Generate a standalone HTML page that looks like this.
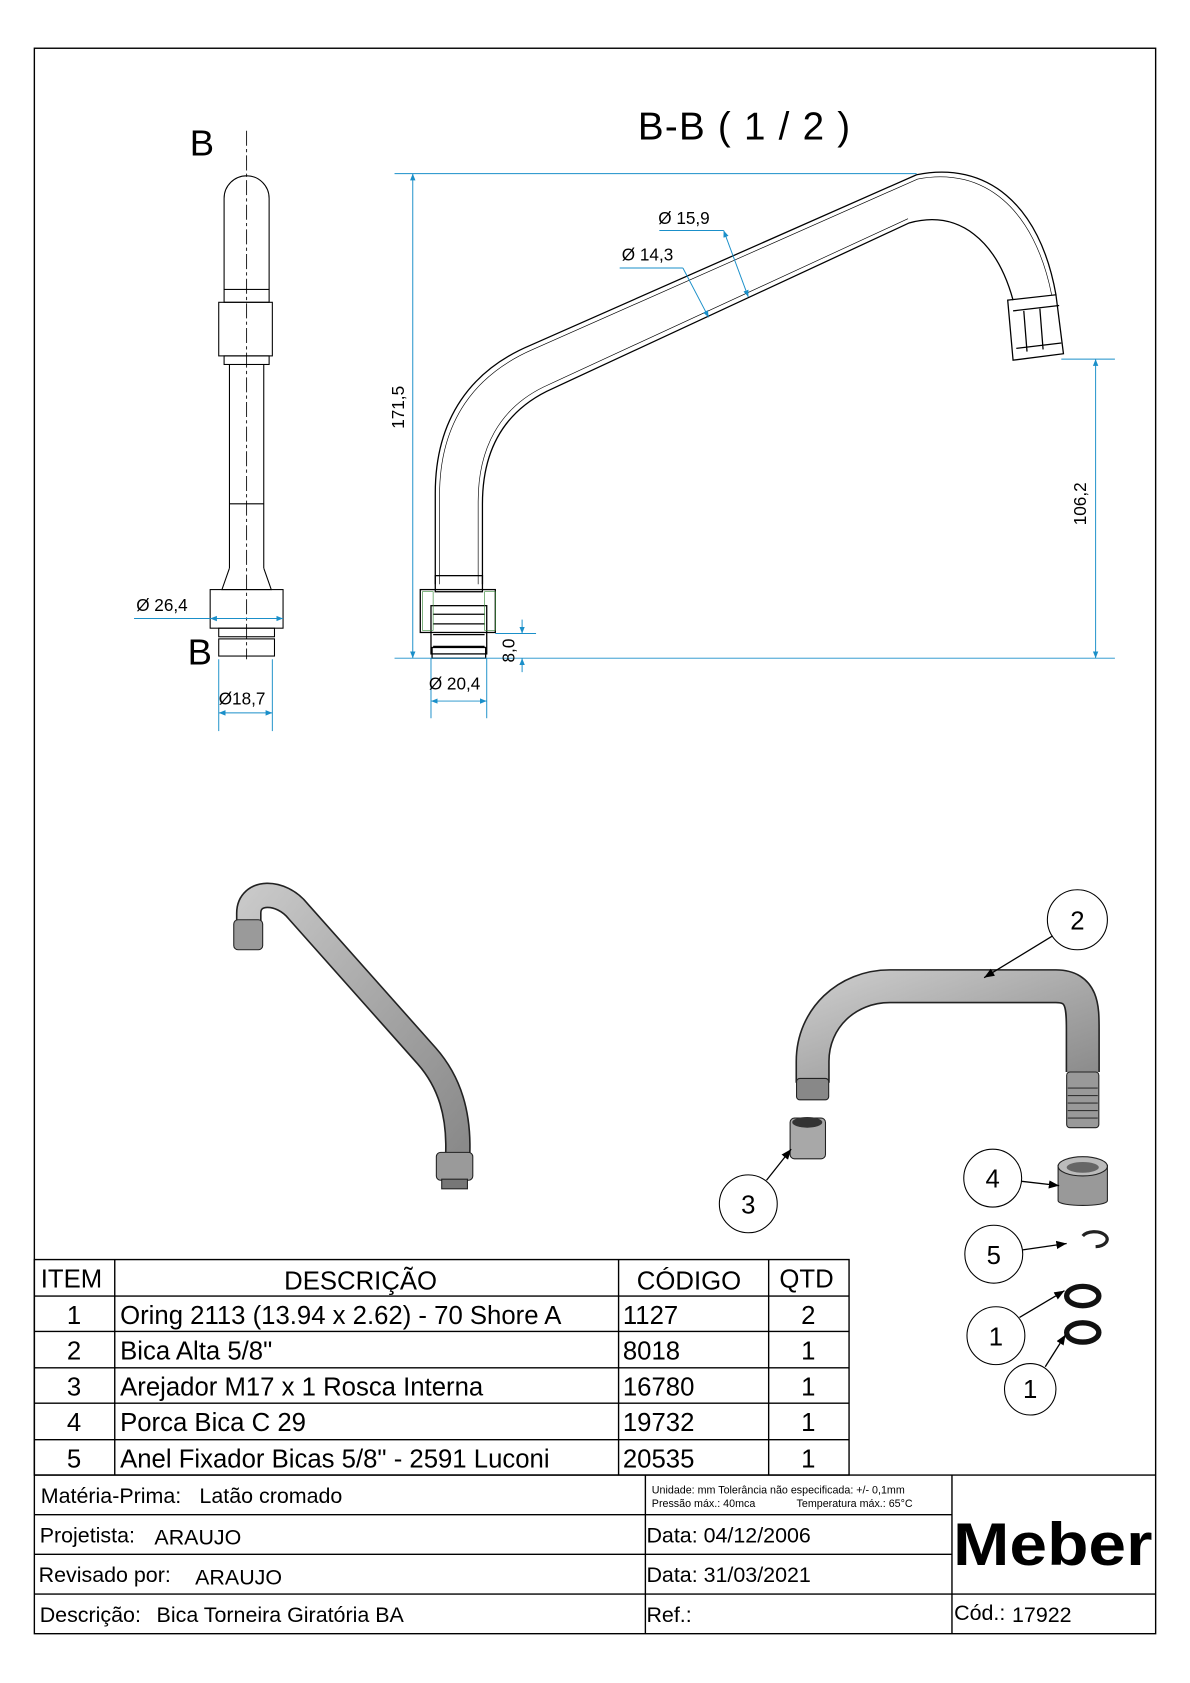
<!DOCTYPE html>
<html><head><meta charset="utf-8"><style>
html,body{margin:0;padding:0;background:#fff}
svg{display:block}
text{font-family:"Liberation Sans",Arial,sans-serif;fill:#000}
</style></head><body>
<svg width="1190" height="1683" viewBox="0 0 1110 1570" xmlns="http://www.w3.org/2000/svg">
<defs>
<marker id="ar" viewBox="0 0 10 10" refX="10" refY="5" markerWidth="7" markerHeight="7" orient="auto-start-reverse"><path d="M0,1 L10,5 L0,9z" fill="#1a8fc9"/></marker>
<marker id="ak" viewBox="0 0 10 10" refX="10" refY="5" markerWidth="8" markerHeight="8" orient="auto"><path d="M0,1 L10,5 L0,9z" fill="#000"/></marker>
<linearGradient id="g" x1="0" y1="0" x2="1" y2="1"><stop offset="0" stop-color="#c8c8c8"/><stop offset="0.5" stop-color="#a8a8a8"/><stop offset="1" stop-color="#8a8a8a"/></linearGradient>
</defs>
<rect x="32" y="45" width="1046" height="1479" fill="none" stroke="#000" stroke-width="1.3"/>

<!-- left side view -->
<text x="177" y="145" font-size="34">B</text>
<text x="175" y="620" font-size="34">B</text>
<line x1="230" y1="122" x2="230" y2="615" stroke="#000" stroke-width="0.8" stroke-dasharray="14,3,3,3"/>
<g fill="none" stroke="#000" stroke-width="1">
<path d="M209,270 L209,185 A21,21 0 0 1 251,185 L251,270"/>
<rect x="209" y="270" width="42" height="12"/>
<rect x="204" y="282" width="50" height="50"/>
<rect x="209" y="332" width="42" height="8"/>
<path d="M214,340 L214,530 M246,340 L246,530 M214,470 L246,470"/>
<path d="M214,530 L207,550 L253,550 L246,530"/>
<rect x="196" y="550" width="68" height="36"/>
<rect x="204" y="586" width="52" height="8"/>
<rect x="204" y="596" width="52" height="16"/>
</g>
<g stroke="#1a8fc9" stroke-width="0.9" fill="none">
<line x1="125" y1="577" x2="264" y2="577" marker-end="url(#ar)"/>
<line x1="196" y1="577" x2="196" y2="577" marker-start="url(#ar)"/>
<line x1="204" y1="615" x2="204" y2="682"/><line x1="254" y1="615" x2="254" y2="682"/>
<line x1="204" y1="665" x2="254" y2="665" marker-start="url(#ar)" marker-end="url(#ar)"/>
</g>
<text x="127" y="570" font-size="16">Ø 26,4</text>
<text x="204" y="657" font-size="16">Ø18,7</text>

<!-- section B-B -->
<text x="595" y="130" font-size="36" textLength="198">B-B ( 1 / 2 )</text>
<g fill="none" stroke="#000" stroke-width="1.2">
<path d="M406,545 L406,460 C406,390 440,345 495,322 L855,163 C920,150 970,190 985,275"/>
<path d="M410,545 L410,462 C410,392 444,349 497,326 L856,167 C918,155 965,195 981,275" stroke-width="0.6"/>
<path d="M450,545 L450,470 C450,420 470,385 510,365 L848,208 C895,195 930,225 945,280"/>
<path d="M446,545 L446,468 C446,418 466,381 507,361 L847,204" stroke-width="0.6"/>
<path d="M940,280 L985,275 L992,330 L945,336 Z"/>
<path d="M945,290 L988,285 M948,325 L990,320 M955,290 L958,328 M970,288 L973,326"/>
<rect x="406" y="537" width="44" height="15"/>
<rect x="392" y="550" width="70" height="40" fill="none"/>
<rect x="402" y="565" width="52" height="45"/>
<path d="M404,573 L452,573 M404,582 L452,582 M404,592 L452,592 M404,603 L452,603"/>
<rect x="403" y="604" width="50" height="10"/>
</g>
<g stroke="#1a8fc9" stroke-width="0.9" fill="none">
<line x1="368" y1="162" x2="855" y2="162"/>
<line x1="368" y1="614" x2="1040" y2="614"/>
<line x1="385" y1="162" x2="385" y2="614" marker-start="url(#ar)" marker-end="url(#ar)"/>
<line x1="990" y1="335" x2="1040" y2="335"/>
<line x1="1022" y1="335" x2="1022" y2="614" marker-start="url(#ar)" marker-end="url(#ar)"/>
<line x1="462" y1="591" x2="500" y2="591"/>
<line x1="487" y1="578" x2="487" y2="591" marker-end="url(#ar)"/>
<line x1="487" y1="627" x2="487" y2="614" marker-end="url(#ar)"/>
<line x1="402" y1="614" x2="402" y2="670"/><line x1="454" y1="614" x2="454" y2="670"/>
<line x1="402" y1="654" x2="454" y2="654" marker-start="url(#ar)" marker-end="url(#ar)"/>
<line x1="615" y1="215" x2="675" y2="215"/>
<line x1="675" y1="215" x2="698" y2="277" marker-start="url(#ar)" marker-end="url(#ar)"/>
<line x1="578" y1="250" x2="637" y2="250"/>
<line x1="637" y1="250" x2="661" y2="296" marker-end="url(#ar)"/>
</g>
<path d="M394,552 L404,552 L404,588 L394,588z M452,552 L462,552 L462,588 L452,588z" fill="none" stroke="#3a8a3a" stroke-width="0.6"/>
<text x="614" y="209" font-size="16">Ø 15,9</text>
<text x="580" y="243" font-size="16">Ø 14,3</text>
<text x="400" y="643" font-size="16">Ø 20,4</text>
<text transform="translate(377,400) rotate(-90)" font-size="16">171,5</text>
<text transform="translate(1013,490) rotate(-90)" font-size="16">106,2</text>
<text transform="translate(480,618) rotate(-90)" font-size="16">8,0</text>

<!-- left iso -->
<g stroke-linecap="round" fill="none">
<path d="M232,862 L232,852 C232,830 262,830 278,850 L398,985 C420,1010 428,1040 427,1075" stroke="#222" stroke-width="24"/>
<path d="M232,862 L232,852 C232,830 262,830 278,850 L398,985 C420,1010 428,1040 427,1075" stroke="url(#g)" stroke-width="21"/>
</g>
<rect x="218" y="858" width="27" height="28" rx="4" fill="#9a9a9a" stroke="#222"/>
<rect x="407" y="1075" width="34" height="26" rx="4" fill="#9a9a9a" stroke="#222"/>
<rect x="412" y="1100" width="24" height="9" fill="#777" stroke="#222"/>

<!-- right iso -->
<g stroke-linecap="butt" fill="none">
<path d="M758,1010 L758,990 C758,950 790,920 830,920 L985,920 C1010,920 1010,940 1010,960 L1010,1000" stroke="#222" stroke-width="32"/>
<path d="M758,1010 L758,990 C758,950 790,920 830,920 L985,920 C1010,920 1010,940 1010,960 L1010,1000" stroke="url(#g)" stroke-width="29"/>
</g>
<rect x="743" y="1006" width="30" height="20" rx="3" fill="#888" stroke="#222"/>
<rect x="995" y="1000" width="30" height="52" rx="3" fill="#999" stroke="#222"/>
<path d="M996,1015 H1024 M996,1022 H1024 M996,1029 H1024 M996,1036 H1024 M996,1043 H1024" stroke="#333"/>
<rect x="737" y="1043" width="33" height="38" rx="4" fill="#a8a8a8" stroke="#222"/>
<ellipse cx="753" cy="1047" rx="14" ry="5" fill="#333"/>
<path d="M987,1087 L1033,1087 L1033,1120 C1033,1126 987,1126 987,1120 Z" fill="#999" stroke="#222"/>
<ellipse cx="1010" cy="1088" rx="23" ry="9" fill="#bbb" stroke="#222"/>
<ellipse cx="1010" cy="1089" rx="15" ry="5" fill="#666"/>
<path d="M1010,1153 A12,7 0 1 1 1022,1163" fill="none" stroke="#222" stroke-width="3"/>
<ellipse cx="1010" cy="1209" rx="15" ry="9" fill="none" stroke="#111" stroke-width="5"/>
<ellipse cx="1010" cy="1243" rx="15" ry="9" fill="none" stroke="#111" stroke-width="5"/>

<!-- balloons -->
<g fill="#fff" stroke="#000" stroke-width="1">
<circle cx="1005" cy="858" r="28"/><circle cx="698" cy="1123" r="27"/>
<circle cx="926" cy="1099" r="27"/><circle cx="927" cy="1170" r="27"/>
<circle cx="929" cy="1246" r="27"/><circle cx="961" cy="1296" r="24"/>
</g>
<g stroke="#000" stroke-width="1.2">
<line x1="982" y1="873" x2="918" y2="912" marker-end="url(#ak)"/>
<line x1="715" y1="1101" x2="738" y2="1072" marker-end="url(#ak)"/>
<line x1="953" y1="1102" x2="988" y2="1106" marker-end="url(#ak)"/>
<line x1="954" y1="1166" x2="995" y2="1160" marker-end="url(#ak)"/>
<line x1="951" y1="1229" x2="993" y2="1204" marker-end="url(#ak)"/>
<line x1="975" y1="1275" x2="994" y2="1245" marker-end="url(#ak)"/>
</g>
<g font-size="24" text-anchor="middle">
<text x="1005" y="867">2</text><text x="698" y="1132">3</text><text x="926" y="1108">4</text>
<text x="927" y="1179">5</text><text x="929" y="1255">1</text><text x="961" y="1304">1</text>
</g>

<!-- parts table -->
<g fill="none" stroke="#000" stroke-width="1.3">
<rect x="32" y="1175" width="760" height="201"/>
<path d="M107,1175 V1376 M577,1175 V1376 M717,1175 V1376 M32,1209 H792 M32,1242 H792 M32,1276 H792 M32,1309 H792 M32,1343 H792"/>
<path d="M32,1376 H1078 M32,1413 H888 M32,1450 H888 M32,1487 H1078 M602,1376 V1524 M888,1376 V1524"/>
</g>
<g font-size="24">
<text x="38" y="1201">ITEM</text><text x="265" y="1203">DESCRIÇÃO</text><text x="594" y="1203">CÓDIGO</text><text x="727" y="1201">QTD</text>
<g text-anchor="middle"><text x="69" y="1235">1</text><text x="69" y="1268">2</text><text x="69" y="1302">3</text><text x="69" y="1335">4</text><text x="69" y="1369">5</text>
<text x="754" y="1235">2</text><text x="754" y="1268">1</text><text x="754" y="1302">1</text><text x="754" y="1335">1</text><text x="754" y="1369">1</text></g>
<text x="112" y="1235">Oring 2113 (13.94 x 2.62) - 70 Shore A</text>
<text x="112" y="1268">Bica Alta 5/8"</text>
<text x="112" y="1302">Arejador  M17 x 1 Rosca Interna</text>
<text x="112" y="1335">Porca Bica C 29</text>
<text x="112" y="1369">Anel Fixador Bicas 5/8" - 2591 Luconi</text>
<text x="581" y="1235">1127</text><text x="581" y="1268">8018</text><text x="581" y="1302">16780</text><text x="581" y="1335">19732</text><text x="581" y="1369">20535</text>
</g>
<g font-size="20">
<text x="38" y="1402">Matéria-Prima:</text><text x="186" y="1402">Latão cromado</text>
<text x="37" y="1439">Projetista:</text><text x="144" y="1441">ARAUJO</text>
<text x="36" y="1476">Revisado por:</text><text x="182" y="1478">ARAUJO</text>
<text x="37" y="1513">Descrição:</text><text x="146" y="1513">Bica Torneira Giratória BA</text>
<text x="603" y="1439">Data: 04/12/2006</text>
<text x="603" y="1476">Data: 31/03/2021</text>
<text x="603" y="1513">Ref.:</text>
<text x="890" y="1511">Cód.:</text><text x="944" y="1513">17922</text>
</g>
<text x="608" y="1393" font-size="10">Unidade: mm Tolerância não especificada: +/- 0,1mm</text>
<text x="608" y="1406" font-size="10">Pressão máx.: 40mca</text><text x="743" y="1406" font-size="10">Temperatura máx.: 65°C</text>
<text x="889" y="1460" font-size="56" font-weight="bold" textLength="186" lengthAdjust="spacingAndGlyphs">Meber</text>
</svg>
</body></html>
